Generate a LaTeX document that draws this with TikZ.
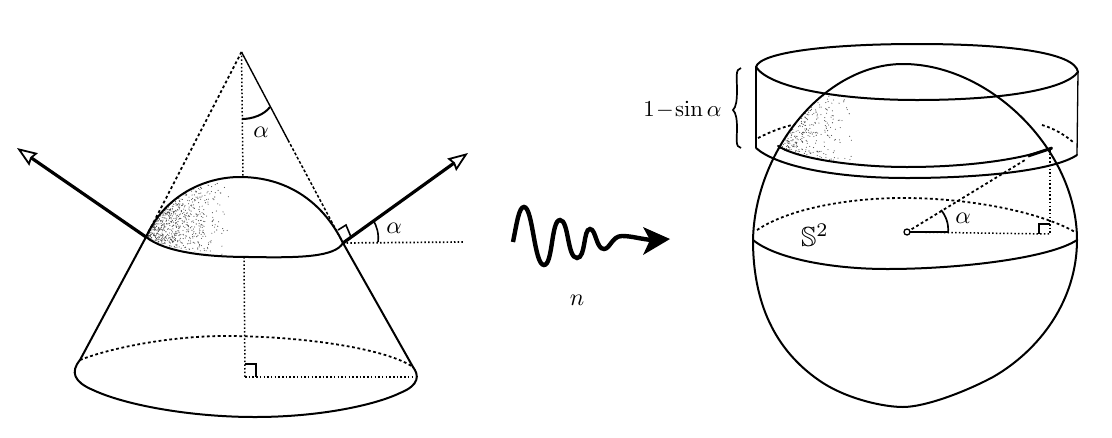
\documentclass[tikz,border=0pt]{standalone}
\usepackage{amssymb}
\usetikzlibrary{arrows.meta}
\tikzset{
 solidline/.style={line width=2pt,line cap=round,line join=round},
 dashline/.style={line width=1.8pt,dash pattern=on 2.8pt off 2.6pt},
 dotline/.style={line width=1.5pt,dash pattern=on 1.5pt off 2.2pt},
 vector/.style={line width=3.2pt,-{Stealth[open,fill=white,length=20pt,width=15pt,inset=2pt,line width=1.8pt]}},
 lab/.style={inner sep=0pt,scale=2.4},
}
\begin{document}
\begin{tikzpicture}[x=1pt,y=-1pt]
\useasboundingbox (0,0) rectangle (1112,437);
% ---------- cone ----------
\coordinate (apex) at (241.5,52);
\coordinate (cl) at (146,237);
\coordinate (cr) at (343,243);
\coordinate (bl) at (80,360);
\coordinate (br) at (413,367);
\coordinate (foot) at (245,377);
\coordinate (domet) at (243,177);
\coordinate (domeb) at (244,257);
\coordinate (rmid) at (288,140);
% stipple on cap
\begin{scope}
\clip (cl) .. controls (165,195) and (205,177) .. (240,177) .. controls (285,177) and (322,200) .. (cr) .. controls (325,262) and (190,262) .. (cl);
\pgfmathsetseed{7}
\foreach \i in {1,...,1500}{
  \pgfmathsetmacro{\px}{147+rnd*rnd*85}
  \pgfmathsetmacro{\py}{178+rnd*78}
  \fill[black!70] (\px,\py) circle (0.55pt);
}
\end{scope}
\draw[dashline] (apex) -- (cl);
\draw[line width=1.4pt] (apex) -- (rmid);
\draw[line width=1.5pt,dash pattern=on 2.8pt off 2pt] (rmid) -- (cr);
\draw[dotline] (apex) -- (domet);
\draw[dotline] (domeb) -- (foot);
\draw[dotline,line width=1.3pt] (foot) -- (412,377);
\draw[solidline] (cl) -- (bl);
\draw[solidline] (cr) -- (br);
\draw[solidline] (bl) .. controls (70,372) and (74,382) .. (93,390) .. controls (125,405) and (190,417) .. (255,417) .. controls (320,417) and (375,405) .. (400,393) .. controls (420,385) and (419,375) .. (br);
\draw[dashline] (bl) .. controls (110,348) and (170,336) .. (225,336) .. controls (300,336) and (385,348) .. (br);
\draw[solidline] (cl) .. controls (165,195) and (205,177) .. (240,177) .. controls (285,177) and (322,200) .. (cr);
\draw[solidline] (cl) .. controls (165,252) and (205,257) .. (250,257) .. controls (300,258) and (335,257) .. (cr);
\draw[line width=1.7pt] (245,364) -- (256,364) -- (256,377);
% normals
\coordinate (nl) at (17,148);
\coordinate (nr) at (468,153);
\draw[vector] (cl) -- (nl);
\draw[vector] (cr) -- (nr);
\coordinate (hr) at (463,242);
\draw[dotline,line width=1.7pt] (cr) -- (hr);
\draw[line width=1.6pt] (338,230) -- (346,225) -- (351,237);
\draw[line width=1.6pt] (373,220) .. controls (377,226) and (379,234) .. (378,242);
\node[lab] (a1) at (394,228) {$\alpha$};
\draw[line width=2pt] (242,119) .. controls (252,119) and (264,115) .. (270,107);
\node[lab] (a2) at (261,132) {$\alpha$};
% ---------- squiggle ----------
\draw[line width=4.4pt,line cap=butt] (513,242) .. controls (517,222) and (519,207) .. (524,207) .. controls (533,207) and (534,265) .. (544,265) .. controls (553,265) and (551,220) .. (560,220) .. controls (569,220) and (567,258) .. (577,258) .. controls (586,258) and (583,229) .. (590,229) .. controls (596,229) and (596,249) .. (604,249) .. controls (610,249) and (612,236) .. (622,236) .. controls (632,236) and (640,239) .. (652,240);
\fill (670,239) -- (643,227) -- (650,240) -- (643,255) -- cycle;
\node[lab] (nn) at (577,300) {$n$};
% ---------- sphere ----------
\coordinate (sl) at (753,240);
\coordinate (sr) at (1077,240);
\coordinate (stop) at (903,64);
\coordinate (sbot) at (903,407);
\coordinate (ctr) at (907,232);
\begin{scope}
\clip (sl) .. controls (755,150) and (825,64) .. (stop) -- (870,64) -- (860,175) -- (780,160) -- cycle;
\pgfmathsetseed{11}
\foreach \i in {1,...,700}{
  \pgfmathsetmacro{\px}{778+rnd*rnd*75}
  \pgfmathsetmacro{\py}{93+rnd*70}
  \fill[black!70] (\px,\py) circle (0.55pt);
}
\fill[white] (770,146) .. controls (800,160) and (860,167) .. (907,167) -- (907,185) -- (770,185) -- cycle;
\end{scope}
% cylinder
\draw[solidline] (756,67) .. controls (760,52) and (830,44) .. (917,44) .. controls (1005,44) and (1075,52) .. (1078,72);
\draw[solidline] (756,67) .. controls (770,88) and (840,100) .. (917,100) .. controls (1000,100) and (1065,90) .. (1078,72);
\draw[line width=1.3pt] (756,67) -- (756,148);
\draw[line width=1.3pt] (1078,72) -- (1077,155);
\draw[solidline] (756,148) .. controls (775,165) and (830,178) .. (907,178) .. controls (985,178) and (1055,170) .. (1077,155);
\draw[dashline] (758,138) .. controls (770,132) and (780,128) .. (792,125);
\draw[dashline] (1042,125) .. controls (1053,128) and (1065,135) .. (1073,142);
% sphere outline
\draw[solidline] (sl) .. controls (755,150) and (825,64) .. (stop) .. controls (990,64) and (1077,150) .. (sr) .. controls (1077,300) and (1040,350) .. (993,377) .. controls (965,392) and (925,407) .. (sbot) .. controls (885,407) and (850,400) .. (823,383) .. controls (780,355) and (753,310) .. (sl);
% cap boundary
\draw[solidline] (778,146) .. controls (800,160) and (860,167) .. (907,167) .. controls (965,167) and (1020,160) .. (1052,148);
\draw[line width=3pt] (1028,156) -- (1052,148);
% equator
\draw[solidline] (sl) .. controls (775,258) and (830,269) .. (887,269) .. controls (960,269) and (1050,258) .. (sr);
\draw[dashline] (757,230) .. controls (790,208) and (850,198) .. (903,198) .. controls (970,198) and (1040,212) .. (1075,232);
% radii
\coordinate (rf) at (1050,234);
\coordinate (rt) at (1025,160);
\draw[dotline] (ctr) -- (rf);
\draw[line width=1.4pt] (ctr) -- (948,232);
\draw[dashline] (ctr) -- (rt);
\draw[dotline] (1050,150) -- (rf);
\draw[line width=2pt] (1050,224) -- (1039,224) -- (1039,234);
\draw[line width=1.7pt] (941,210) .. controls (946,216) and (949,224) .. (948,233);
\draw[line width=1.3pt,fill=white] (ctr) circle (3pt);
\node[lab] (a3) at (963,218) {$\alpha$};
\node[lab,scale=1.15] (s2) at (815,235) {$\mathbb{S}^2$};
% brace label
\node[lab,anchor=east,scale=0.95] (sina) at (722,110) {$1\!-\!\sin\alpha$};
\draw[line width=1.7pt] (741,68) .. controls (735,69) and (737,78) .. (737,90) .. controls (737,101) and (736,107) .. (733,110) .. controls (736,113) and (737,119) .. (737,128) .. controls (737,139) and (735,147) .. (741,148);
\end{tikzpicture}
\end{document}
